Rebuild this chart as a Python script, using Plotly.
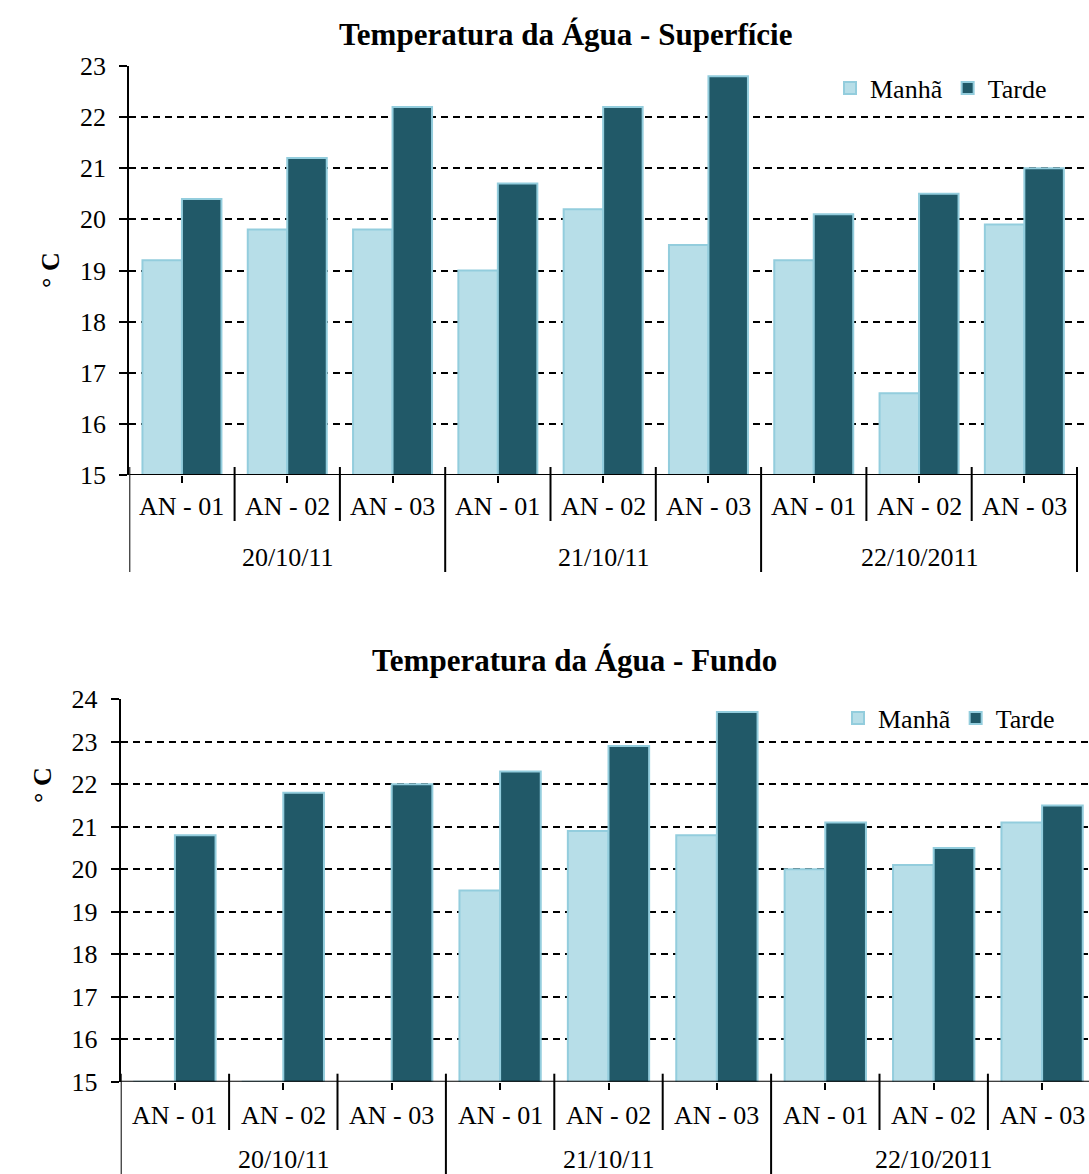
import plotly.graph_objects as go

# ---- data -------------------------------------------------------------
stations = ["AN - 01", "AN - 02", "AN - 03"] * 3
dates = ["20/10/11", "21/10/11", "22/10/2011"]

sup_manha = [19.2, 19.8, 19.8, 19.0, 20.2, 19.5, 19.2, 16.6, 19.9]
sup_tarde = [20.4, 21.2, 22.2, 20.7, 22.2, 22.8, 20.1, 20.5, 21.0]

fun_manha = [15.0, 15.0, 15.0, 19.5, 20.9, 20.8, 20.0, 20.1, 21.1]
fun_tarde = [20.8, 21.8, 22.0, 22.3, 22.9, 23.7, 21.1, 20.5, 21.5]

titles = ["Temperatura da Água - Superfície", "Temperatura da Água - Fundo"]

# ---- style ------------------------------------------------------------
W, H = 1089, 1174
FONT = "Liberation Serif"
C_MANHA = "#B7DEE8"
C_TARDE = "#215968"
C_EDGE = "#93CDDD"


def py(p):
    """pixel row -> paper y"""
    return 1 - p / H


def px(p):
    """pixel column -> paper x"""
    return p / W


fig = go.Figure()
x_idx = list(range(len(stations)))

panels = [
    # values, y-range, axis ids, legend, pixel geometry
    dict(m=sup_manha, t=sup_tarde, yr=[15, 23], xa="x", ya="y", leg="legend",
         left=129.3, step=105.3, top=66, bottom=475,
         lab_y=506, date_y=557, sep_short=521, sep_long=572,
         title_y=35, title_x=566, ytitle=(50, 270)),
    dict(m=fun_manha, t=fun_tarde, yr=[15, 24], xa="x2", ya="y2", leg="legend2",
         left=120.7, step=108.4, top=699.3, bottom=1081.7,
         lab_y=1115, date_y=1159, sep_short=1130, sep_long=1174,
         title_y=660, title_x=574, ytitle=(42, 785)),
]

annotations = []
shapes = []

for k, p in enumerate(panels):
    first = k == 0
    fig.add_trace(go.Bar(
        x=x_idx, y=p["m"], name="Manhã", xaxis=p["xa"], yaxis=p["ya"],
        legend=p["leg"], marker=dict(color=C_MANHA, line=dict(color=C_EDGE, width=2)),
    ))
    fig.add_trace(go.Bar(
        x=x_idx, y=p["t"], name="Tarde", xaxis=p["xa"], yaxis=p["ya"],
        legend=p["leg"], marker=dict(color=C_TARDE, line=dict(color=C_EDGE, width=2)),
    ))

    xmax = -0.5 + (W - p["left"]) / p["step"]
    ax_x = dict(
        domain=[px(p["left"]), 1], range=[-0.5, xmax],
        tickvals=x_idx, ticks="outside", ticklen=7, tickwidth=1.5, tickcolor="black",
        showticklabels=False, showgrid=False, showline=False, zeroline=False,
        anchor=p["ya"],
    )
    ax_y = dict(
        domain=[py(p["bottom"]), py(p["top"])], range=p["yr"], dtick=1,
        ticks="outside", ticklen=8, tickwidth=1.5, tickcolor="black",
        ticklabelstandoff=8,
        showline=True, linewidth=2, linecolor="black",
        showgrid=True, gridcolor="black", gridwidth=1.5, griddash="7px,5px",
        zeroline=False, tickfont=dict(family=FONT, size=26, color="black"),
        anchor=p["xa"],
    )
    if first:
        fig.update_layout(xaxis=ax_x, yaxis=ax_y)
    else:
        fig.update_layout(xaxis2=ax_x, yaxis2=ax_y)

    yref_d = p["ya"]
    xref_d = p["xa"]
    n = len(stations)

    # category axis baseline
    shapes.append(dict(type="line", xref=xref_d, yref=yref_d, x0=-0.5, x1=n - 0.5,
                       y0=p["yr"][0], y1=p["yr"][0], line=dict(color="black", width=2)))
    # boundaries between stations (short) and between dates (long)
    for b in range(n + 1):
        long_sep = b % 3 == 0
        shapes.append(dict(
            type="line", xref=xref_d, yref="paper", x0=b - 0.5, x1=b - 0.5,
            y0=py(p["bottom"] - 8), y1=py(p["sep_long"] if long_sep else p["sep_short"]),
            line=dict(color="black", width=2),
        ))
    # station labels
    for i, s in enumerate(stations):
        annotations.append(dict(x=i, y=py(p["lab_y"]), xref=xref_d, yref="paper",
                                text=s, showarrow=False, yanchor="middle",
                                font=dict(family=FONT, size=26, color="black")))
    # date labels
    for j, d in enumerate(dates):
        annotations.append(dict(x=3 * j + 1, y=py(p["date_y"]), xref=xref_d, yref="paper",
                                text=d, showarrow=False, yanchor="middle",
                                font=dict(family=FONT, size=26, color="black")))
    # chart title
    annotations.append(dict(x=px(p["title_x"]), y=py(p["title_y"]), xref="paper", yref="paper",
                            text=f"<b>{titles[k]}</b>", showarrow=False,
                            xanchor="center", yanchor="middle",
                            font=dict(family=FONT, size=31, color="black")))
    # value axis title
    annotations.append(dict(x=px(p["ytitle"][0]), y=py(p["ytitle"][1]), xref="paper", yref="paper",
                            text="<b>° C</b>", showarrow=False, textangle=-90,
                            xanchor="center", yanchor="middle",
                            font=dict(family=FONT, size=26, color="black")))

legend_common = dict(orientation="h", xanchor="left", yanchor="middle",
                     bgcolor="rgba(0,0,0,0)", borderwidth=0,
                     font=dict(family=FONT, size=26, color="black"),
                     itemclick=False, itemdoubleclick=False)

fig.update_layout(
    width=W, height=H, autosize=False,
    margin=dict(l=0, r=0, t=0, b=0, pad=0, autoexpand=False),
    paper_bgcolor="white", plot_bgcolor="white",
    barmode="group", bargap=0.25, bargroupgap=0,
    showlegend=True,
    legend=dict(x=px(830), y=py(88), **legend_common),
    legend2=dict(x=px(838), y=py(718), **legend_common),
    annotations=annotations,
    shapes=shapes,
)

fig.write_html("out.html")
